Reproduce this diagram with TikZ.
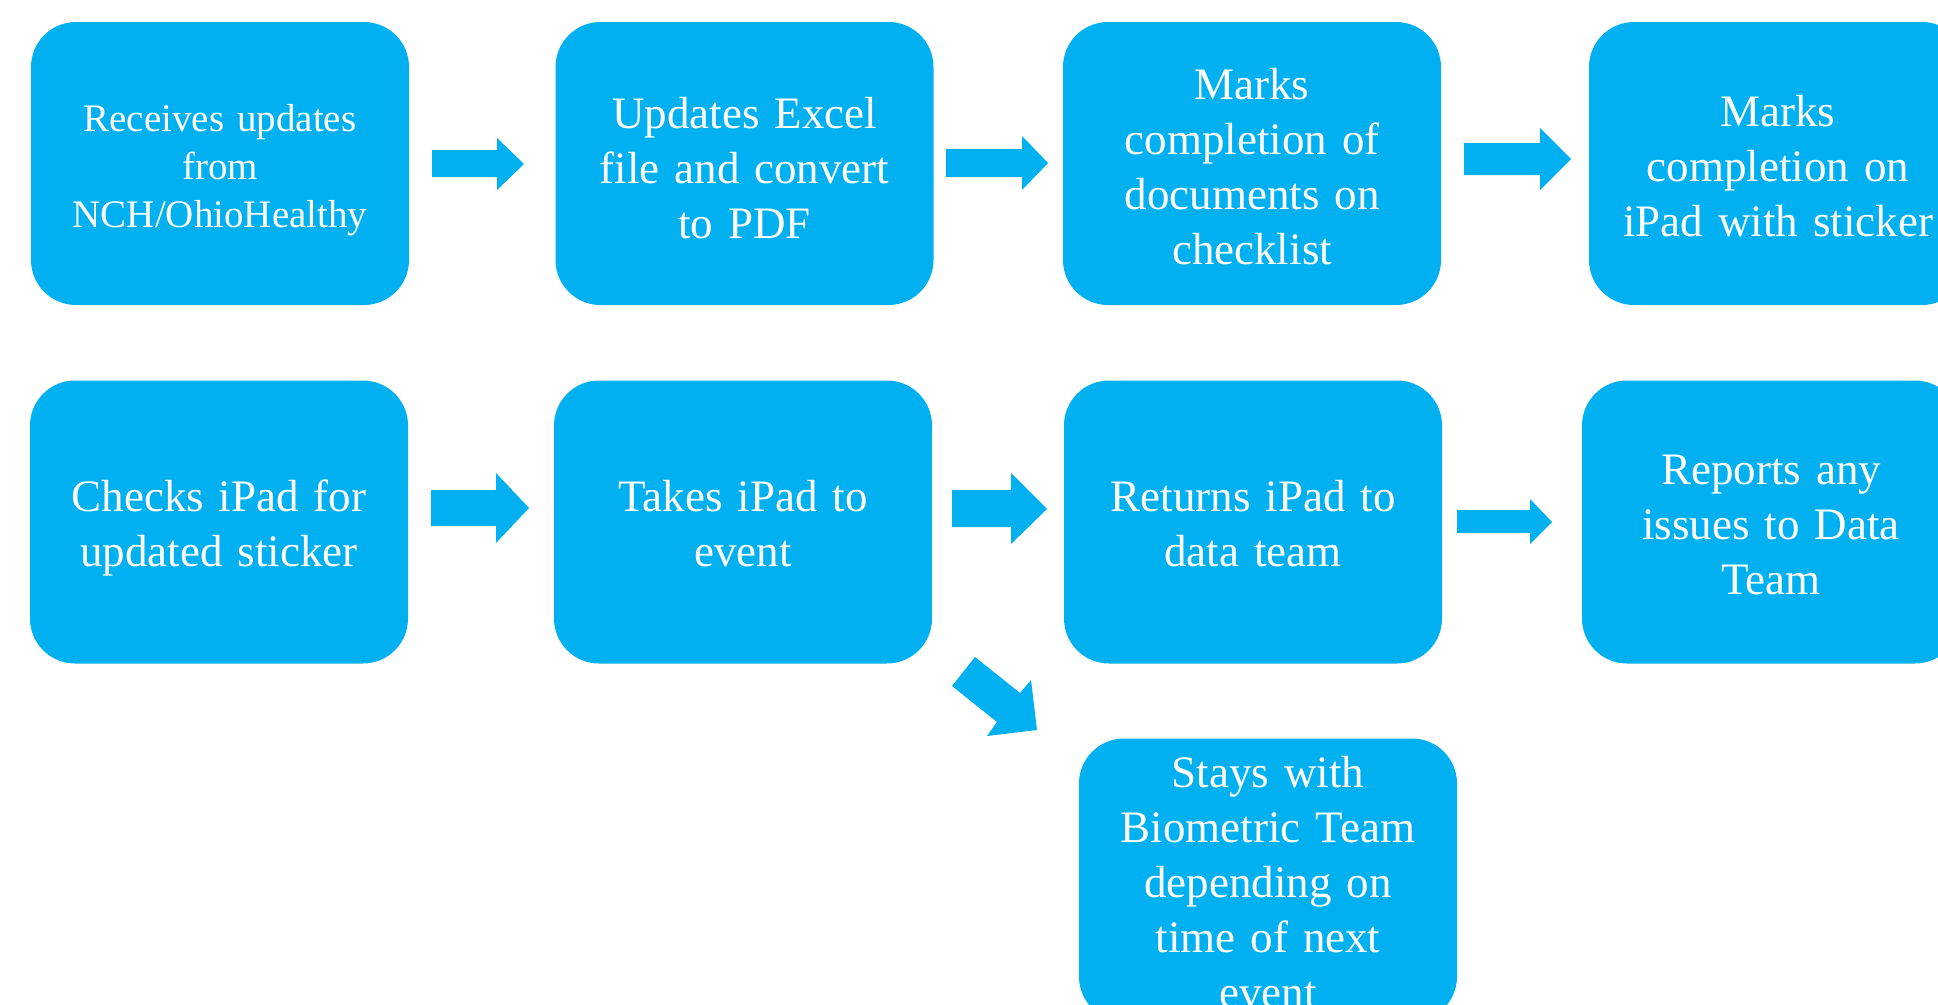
\documentclass[tikz,border=0pt]{standalone}
\usepackage{fontspec}
\setmainfont{Liberation Serif}
\definecolor{stepblue}{HTML}{00B0F0}
\begin{document}
\begin{tikzpicture}[x=1pt,y=-1pt,
  stepbox/.style={fill=stepblue, draw=none, rounded corners=45pt,
    minimum width=378pt, minimum height=283pt, inner sep=0pt},
  steptext/.style={inner sep=0pt, text width=322pt, align=center,
    text=white, font=\fontsize{45}{55}\selectfont},
  smalltext/.style={font=\fontsize{39}{48}\selectfont},
  blockarrow/.style={fill=stepblue, draw=none}]
\useasboundingbox (0,0) rectangle (1938,1004);
\clip (0,0) rectangle (1938,1004);

% first row
\node[stepbox] (b1) at (220,163.5) {};
\node[steptext, smalltext] (t1) at ([yshift=-7pt]b1.center) {Receives updates\\from\\NCH/OhioHealthy};
\node[stepbox] (b2) at (744.5,163.5) {};
\node[steptext] (t2) at ([yshift=-5pt]b2.center) {Updates Excel\\file and convert\\to PDF};
\node[stepbox] (b3) at (1252,163.5) {};
\node[steptext] (t3) at ([yshift=-3pt]b3.center) {Marks\\completion of\\documents on\\checklist};
\node[stepbox] (b4) at (1778,163.5) {};
\node[steptext] (t4) at ([yshift=-3pt]b4.center) {Marks\\completion on\\iPad with sticker};

% second row
\node[stepbox] (b5) at (219,522) {};
\node[steptext] (t5) at ([yshift=-6pt]b5.center) {Checks iPad for\\updated sticker};
\node[stepbox] (b6) at (743,522) {};
\node[steptext] (t6) at ([yshift=-2pt]b6.center) {Takes iPad to\\event};
\node[stepbox] (b7) at (1253,522) {};
\node[steptext] (t7) at ([yshift=-2pt]b7.center) {Returns iPad to\\data team};
\node[stepbox] (b8) at (1771,522) {};
\node[steptext] (t8) at ([yshift=-3pt]b8.center) {Reports any\\issues to Data\\Team};

% branch below
\node[stepbox] (b9) at (1268,880) {};
\node[steptext] (t9) at ([yshift=-2pt]b9.center) {Stays with\\Biometric Team\\depending on\\time of next\\event};

% block arrows, first row
\fill[blockarrow] (432,150) -- (497,150) -- (497,138) -- (524,164) -- (497,190) -- (497,177) -- (432,177) -- cycle;
\fill[blockarrow] (946,149) -- (1022,149) -- (1022,136) -- (1048,163) -- (1022,190) -- (1022,177) -- (946,177) -- cycle;
\fill[blockarrow] (1464,143) -- (1540,143) -- (1540,128) -- (1571,159) -- (1540,190) -- (1540,175) -- (1464,175) -- cycle;

% block arrows, second row
\fill[blockarrow] (431,490) -- (496,490) -- (496,473) -- (529,508) -- (496,543) -- (496,526) -- (431,526) -- cycle;
\fill[blockarrow] (952,490) -- (1011,490) -- (1011,473) -- (1047,509) -- (1011,544) -- (1011,527) -- (952,527) -- cycle;
\fill[blockarrow] (1457,510) -- (1530,510) -- (1530,499) -- (1552,522) -- (1530,544) -- (1530,533) -- (1457,533) -- cycle;

% diagonal block arrow towards the branch box
\fill[blockarrow] (975,657) -- (1020,693) -- (1031,680) -- (1037,730) -- (987,736) -- (997,722) -- (952,686) -- cycle;
\end{tikzpicture}
\end{document}
